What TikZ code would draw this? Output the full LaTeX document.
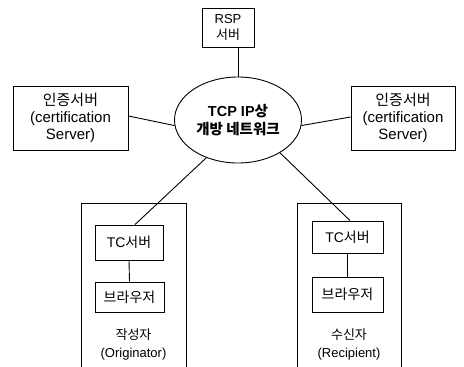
\documentclass[tikz,border=0pt]{standalone}
\usepackage{fontspec}
\setmainfont{Liberation Sans}
\newfontfamily\kr{Noto Sans CJK KR}
\newcommand\kor[1]{{\kr #1}}
\usetikzlibrary{shapes.geometric}
\begin{document}
\begin{tikzpicture}[x=1pt,y=-1pt,
  every node/.style={align=center, inner sep=0pt},
  box/.style={draw, line width=0.9pt},
  link/.style={draw, line width=0.9pt}]
\useasboundingbox (0,0) rectangle (464,367);
% RSP
\node[box, minimum width=52pt, minimum height=39pt, font=\fontsize{13}{16}\selectfont] (rsp) at (228,27.5) {RSP\\\kor{서버}};
% network
\node[box, ellipse, minimum width=127pt, minimum height=86pt, font=\bfseries\fontsize{14.5}{18}\selectfont] (net) at (238,120) {TCP IP\kor{상}\\\kor{개방 네트워크}};
% cert servers
\node[box, minimum width=115pt, minimum height=64pt, font=\fontsize{15}{17}\selectfont] (certL) at (70.5,118) {\kor{인증서버}\\(certification\\Server)};
\node[box, minimum width=104pt, minimum height=64pt, font=\fontsize{15}{17}\selectfont] (certR) at (403,118) {\kor{인증서버}\\(certification\\Server)};
% groups
\draw[line width=0.9pt] (81,367) -- (81,203) -- (186,203) -- (186,367);
\draw[line width=0.9pt] (297,367) -- (297,203) -- (401,203) -- (401,367);
\node[box, minimum width=68pt, minimum height=35pt, font=\fontsize{14}{16}\selectfont] (tcL) at (129,242.5) {TC\kor{서버}};
\node[box, minimum width=69pt, minimum height=30pt, font=\fontsize{14}{16}\selectfont] (brL) at (129.5,297) {\kor{브라우저}};
\node[font=\fontsize{13}{18}\selectfont] (orig) at (133.5,344) {\kor{작성자}\\(Originator)};
\node[box, minimum width=71pt, minimum height=32pt, font=\fontsize{14}{16}\selectfont] (tcR) at (347.5,237) {TC\kor{서버}};
\node[box, minimum width=71pt, minimum height=35pt, font=\fontsize{14}{16}\selectfont] (brR) at (347.5,294.5) {\kor{브라우저}};
\node[font=\fontsize{13}{18}\selectfont] (reci) at (349,344) {\kor{수신자}\\(Recipient)};
% connectors
\draw[link] (net.north |- rsp.south) -- (net.north);
\draw[link] ([yshift=2pt]certL.east) -- (net.185);
\draw[link] ([yshift=1pt]certR.west) -- (net.-5);
\draw[link] ([xshift=6pt]tcL.north) -- (net.-130);
\draw[link] ([xshift=2.5pt]tcR.north) -- (net.-38);
\draw[link] (tcL.south) -- (brL.north);
\draw[link] (tcR.south) -- (brR.north);
\end{tikzpicture}
\end{document}
